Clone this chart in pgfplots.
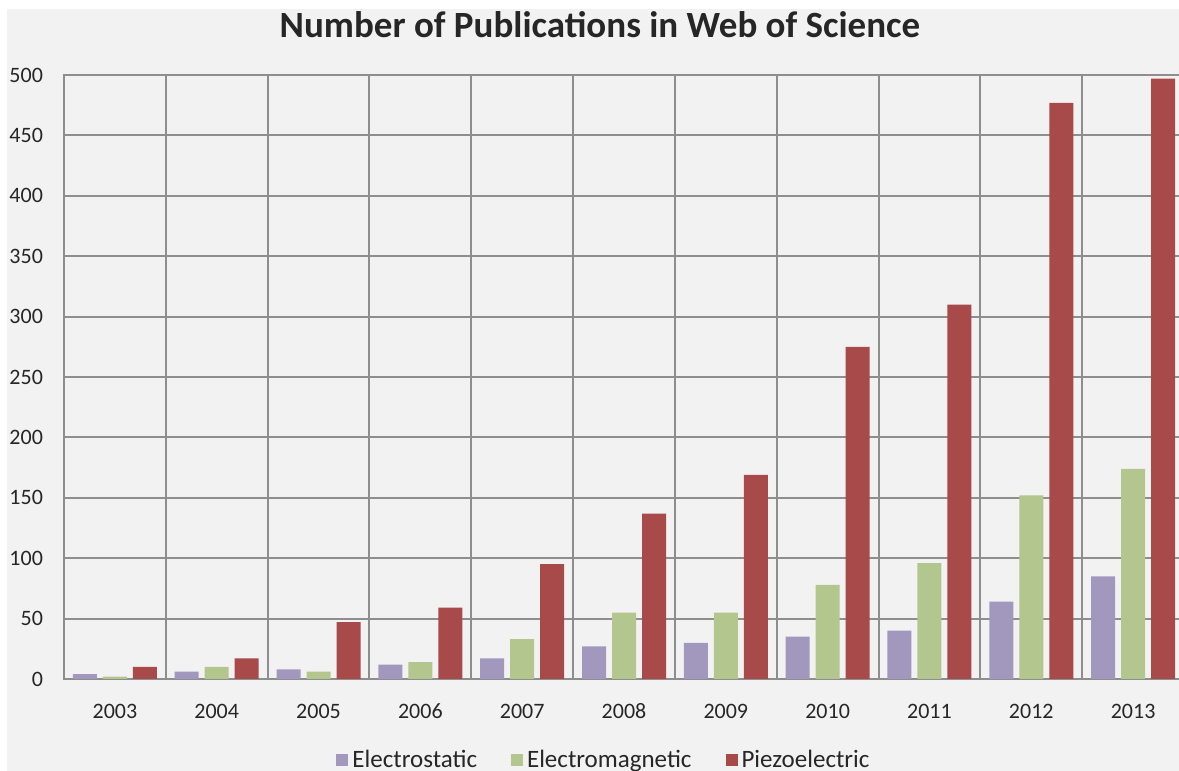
\documentclass[border=0pt]{standalone}
\usepackage{pgfplots}
\pgfplotsset{compat=1.18}
\usepackage{fontspec}
\setmainfont{Carlito}
\definecolor{bgc}{HTML}{F2F2F2}
\definecolor{gridc}{HTML}{8E8E8E}
\definecolor{cES}{HTML}{A298BE}
\definecolor{cEM}{HTML}{B3C68E}
\definecolor{cPZ}{HTML}{A84A4A}
\definecolor{txt}{HTML}{262626}
\begin{document}
\begin{tikzpicture}
\useasboundingbox (0,0) rectangle (589.5pt,385.5pt);
\clip (0,0) rectangle (589.5pt,385.5pt);
\fill[white] (0,0) rectangle (589.5pt,385.5pt);
\fill[bgc] (3.5pt,0) rectangle (589.5pt,381pt);
\begin{axis}[
  at={(32pt,46pt)}, anchor=south west,
  scale only axis, width=560pt, height=302pt,
  ybar=3pt, bar width=12pt,
  xmin=-0.5, xmax=10.5, ymin=0, ymax=500,
  xtick={0,1,2,3,4,5,6,7,8,9,10},
  xticklabels={2003,2004,2005,2006,2007,2008,2009,2010,2011,2012,2013},
  ytick={0,50,...,500},
  minor xtick={-0.5,0.5,...,10.5},
  ymajorgrids, xminorgrids,
  grid style={gridc, line width=1pt},
  minor grid style={gridc, line width=1pt},
  major grid style={gridc, line width=1pt},
  axis line style={gridc, line width=1pt},
  major tick length=0pt, minor tick length=0pt,
  tick label style={font=\fontsize{11}{13}\selectfont, text=txt},
  /pgf/number format/assume math mode=true,
  yticklabel style={xshift=-7pt},
  xticklabel style={yshift=-8.5pt, text height=7.5pt, text depth=0pt},
  legend style={at={(0.483,-0.134)}, anchor=center, draw=none, fill=none,
    legend columns=3, font=\fontsize{12.5}{14}\selectfont, text=txt,
    /tikz/every even column/.append style={column sep=15pt}},
  legend image code/.code={\fill[#1,draw=none] (0pt,-3pt) rectangle (6pt,3pt);},
]
\addplot[fill=cES, draw=none] coordinates {(0,4) (1,6) (2,8) (3,12) (4,17) (5,27) (6,30) (7,35) (8,40) (9,64) (10,85)};
\addplot[fill=cEM, draw=none] coordinates {(0,2) (1,10) (2,6) (3,14) (4,33) (5,55) (6,55) (7,78) (8,96) (9,152) (10,174)};
\addplot[fill=cPZ, draw=none] coordinates {(0,10) (1,17) (2,47) (3,59) (4,95) (5,137) (6,169) (7,275) (8,310) (9,477) (10,497)};
\legend{Electrostatic, Electromagnetic, Piezoelectric}
\end{axis}
\node[text=txt] at (300pt,373pt) {\fontsize{18.5}{22}\selectfont\bfseries Number of Publications in Web of Science};
\end{tikzpicture}
\end{document}
